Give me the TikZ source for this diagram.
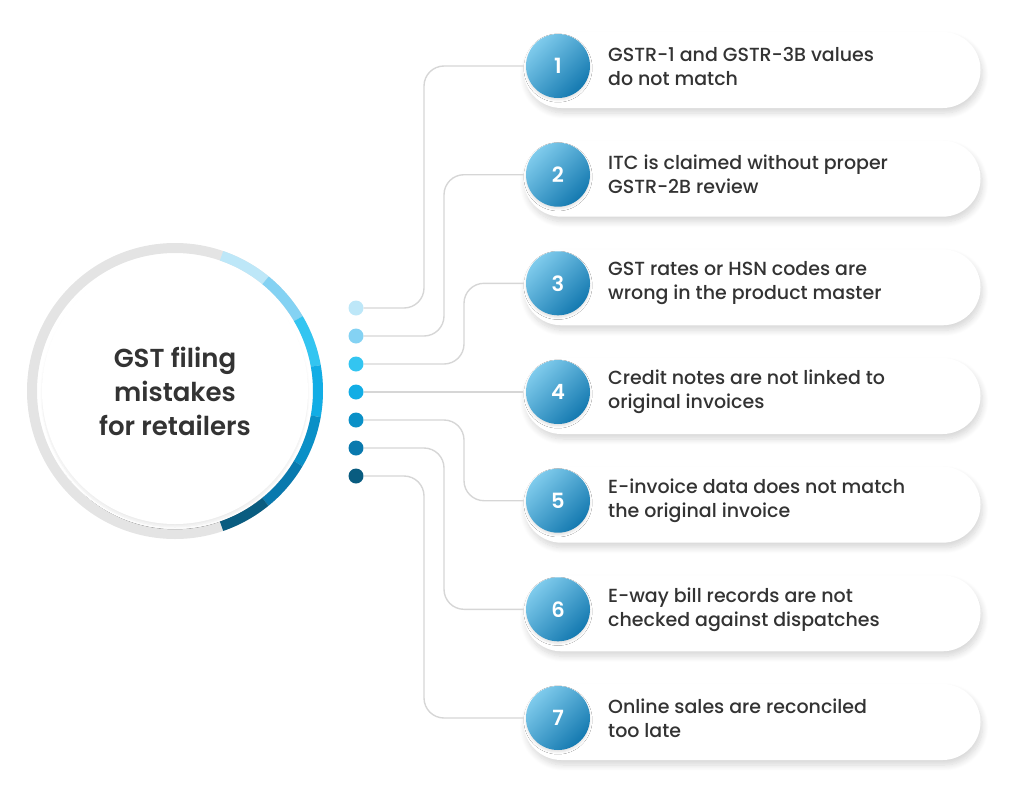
\documentclass[tikz,border=0pt]{standalone}
\usepackage{fontspec}
\setmainfont{Poppins}[UprightFont=* Medium, BoldFont=* SemiBold]
\usetikzlibrary{shadows.blur}

\definecolor{ringgray}{HTML}{E4E4E4}
\definecolor{linkgray}{HTML}{D6D6D6}
\definecolor{inkgray}{HTML}{333333}
\definecolor{blueA}{HTML}{BDE7F8}
\definecolor{blueB}{HTML}{84D2F3}
\definecolor{blueC}{HTML}{33C5F1}
\definecolor{blueD}{HTML}{12ADE5}
\definecolor{blueE}{HTML}{0A90C7}
\definecolor{blueF}{HTML}{0979AE}
\definecolor{blueG}{HTML}{095C80}
\definecolor{badgetop}{HTML}{7FCBEC}
\definecolor{badgebot}{HTML}{1479B0}

\tikzset{
  dot/.style={circle, fill=#1, inner sep=0pt, minimum size=15pt},
  link/.style={draw=linkgray, line width=1.4pt, rounded corners=20pt},
  card/.style={fill=white, rounded corners=38pt, minimum width=457pt,
    minimum height=76pt, inner sep=0pt,
    blur shadow={shadow xshift=2pt, shadow yshift=-5pt, shadow opacity=16,
      shadow blur steps=10, shadow blur radius=6pt}},
  badge/.style={circle, minimum size=64pt, inner sep=0pt, text=white,
    top color=badgetop, bottom color=badgebot, shading angle=45,
    font=\fontsize{21}{21}\selectfont\bfseries,
    blur shadow={shadow xshift=0pt, shadow yshift=-2pt, shadow opacity=12,
      shadow blur steps=6}},
  itemtext/.style={anchor=west, align=left, text=inkgray, inner sep=0pt,
    font=\fontsize{19}{24}\selectfont},
  ring/.style={line width=10pt, draw=#1}
}

\begin{document}
\begin{tikzpicture}[x=1pt, y=-1pt]
\useasboundingbox (0,0) rectangle (1024,800);

% big circle
\coordinate (hub) at (175,391);
\draw[ring=ringgray] (hub) circle (143pt);
\draw[ring=blueA] (hub) ++(71:143pt) arc (71:50.7:143pt);
\draw[ring=blueB] (hub) ++(50.7:143pt) arc (50.7:30.4:143pt);
\draw[ring=blueC] (hub) ++(30.4:143pt) arc (30.4:10.1:143pt);
\draw[ring=blueD] (hub) ++(10.1:143pt) arc (10.1:-10.2:143pt);
\draw[ring=blueE] (hub) ++(-10.2:143pt) arc (-10.2:-30.5:143pt);
\draw[ring=blueF] (hub) ++(-30.5:143pt) arc (-30.5:-50.8:143pt);
\draw[ring=blueG] (hub) ++(-50.8:143pt) arc (-50.8:-71:143pt);
\fill[white, blur shadow={shadow xshift=0pt, shadow yshift=-3pt,
  shadow opacity=8, shadow blur steps=8}] (hub) circle (133pt);
\node[align=center, text=inkgray, font=\fontsize{26}{34}\selectfont\bfseries]
  (title) at (hub) {GST filing\\mistakes\\for retailers};

% dots
\node[dot=blueA] (d1) at (356,308) {};
\node[dot=blueB] (d2) at (356,336) {};
\node[dot=blueC] (d3) at (356,364) {};
\node[dot=blueD] (d4) at (356,392) {};
\node[dot=blueE] (d5) at (356,420) {};
\node[dot=blueF] (d6) at (356,448) {};
\node[dot=blueG] (d7) at (356,476) {};

% lanes of the connectors
\coordinate (laneA) at (424,0);
\coordinate (laneB) at (444,0);
\coordinate (laneC) at (464,0);

% cards
\node[card] (c1) at (752,70) {};
\node[card] (c2) at (752,178.7) {};
\node[card] (c3) at (752,287.3) {};
\node[card] (c4) at (752,396) {};
\node[card] (c5) at (752,504.7) {};
\node[card] (c6) at (752,613.3) {};
\node[card] (c7) at (752,722) {};

% badges
\coordinate (p1) at (558,66);
\coordinate (p2) at (558,174.7);
\coordinate (p3) at (558,283.3);
\coordinate (p4) at (558,392);
\coordinate (p5) at (558,500.7);
\coordinate (p6) at (558,609.3);
\coordinate (p7) at (558,718);

\draw[link] (d1) -- (d1 -| laneA) -- (p1 -| laneA) -- (c1.west |- p1);
\draw[link] (d2) -- (d2 -| laneB) -- (p2 -| laneB) -- (c2.west |- p2);
\draw[link] (d3) -- (d3 -| laneC) -- (p3 -| laneC) -- (c3.west |- p3);
\draw[link] (d4) -- (c4.west |- p4);
\draw[link] (d5) -- (d5 -| laneC) -- (p5 -| laneC) -- (c5.west |- p5);
\draw[link] (d6) -- (d6 -| laneB) -- (p6 -| laneB) -- (c6.west |- p6);
\draw[link] (d7) -- (d7 -| laneA) -- (p7 -| laneA) -- (c7.west |- p7);

\node[badge] (b1) at (p1) {1};
\node[badge] (b2) at (p2) {2};
\node[badge] (b3) at (p3) {3};
\node[badge] (b4) at (p4) {4};
\node[badge] (b5) at (p5) {5};
\node[badge] (b6) at (p6) {6};
\node[badge] (b7) at (p7) {7};

% texts
\node[itemtext] (t1) at (608,66) {GSTR-1 and GSTR-3B values\\do not match};
\node[itemtext] (t2) at (608,174.7) {ITC is claimed without proper\\GSTR-2B review};
\node[itemtext] (t3) at (608,283.3) {GST rates or HSN codes are\\wrong in the product master};
\node[itemtext] (t4) at (608,392) {Credit notes are not linked to\\original invoices};
\node[itemtext] (t5) at (608,500.7) {E-invoice data does not match\\the original invoice};
\node[itemtext] (t6) at (608,609.3) {E-way bill records are not\\checked against dispatches};
\node[itemtext] (t7) at (608,718) {Online sales are reconciled\\too late};
\end{tikzpicture}
\end{document}
